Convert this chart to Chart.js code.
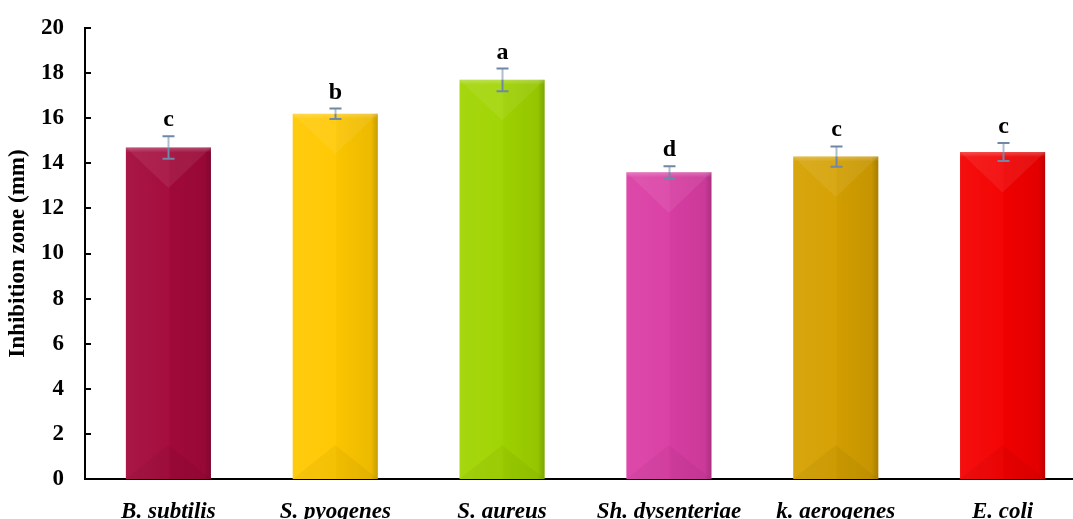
<!DOCTYPE html>
<html lang="en">
<head>
    <meta charset="UTF-8">
    <title>Inhibition zone</title>
    <style>
        html, body {
            margin: 0;
            padding: 0;
            background: #ffffff;
            overflow: hidden;
        }
        #wrap {
            position: relative;
            width: 1092px;
            height: 519px;
        }
    </style>
    <script src="https://cdn.jsdelivr.net/npm/chart.js"></script>
</head>
<body>
    <div id="wrap">
        <canvas id="zoneChart"></canvas>
    </div>

    <script>
        // data
        const strains = ['B. subtilis', 'S. pyogenes', 'S. aureus', 'Sh. dysenteriae', 'k. aerogenes', 'E. coli'];
        const zoneMeans = [14.7, 16.2, 17.7, 13.6, 14.3, 14.5];
        const zoneErrors = [0.5, 0.23, 0.5, 0.27, 0.45, 0.4];
        const groupLetters = ['c', 'b', 'a', 'd', 'c', 'c'];
        const barColors = ['#a3093b', '#ffc800', '#a0d400', '#da3ea4', '#d5a000', '#f40000'];

        const serif = '"Liberation Serif", "Times New Roman", serif';

        // shading on top of each bar to get the bevelled look
        const bevelPlugin = {
            id: 'bevel',
            afterDatasetsDraw(chart) {
                const ctx = chart.ctx;
                chart.getDatasetMeta(0).data.forEach(bar => {
                    const w = bar.width;
                    const left = bar.x - w / 2;
                    const right = bar.x + w / 2;
                    const top = bar.y;
                    const bottom = bar.base;
                    const half = w / 2;
                    ctx.save();

                    // left to right shading
                    const g = ctx.createLinearGradient(left, 0, right, 0);
                    g.addColorStop(0, 'rgba(255,255,255,0.06)');
                    g.addColorStop(0.5, 'rgba(255,255,255,0.02)');
                    g.addColorStop(0.52, 'rgba(0,0,0,0.02)');
                    g.addColorStop(0.92, 'rgba(0,0,0,0.07)');
                    g.addColorStop(1, 'rgba(0,0,0,0.22)');
                    ctx.fillStyle = g;
                    ctx.fillRect(left, top, w, bottom - top);

                    // top triangle
                    ctx.beginPath();
                    ctx.moveTo(left, top);
                    ctx.lineTo(right, top);
                    ctx.lineTo(bar.x, top + half * 0.95);
                    ctx.closePath();
                    ctx.fillStyle = 'rgba(255,255,255,0.07)';
                    ctx.fill();

                    // bottom triangle
                    ctx.beginPath();
                    ctx.moveTo(left, bottom);
                    ctx.lineTo(right, bottom);
                    ctx.lineTo(bar.x, bottom - half * 0.8);
                    ctx.closePath();
                    ctx.fillStyle = 'rgba(0,0,0,0.04)';
                    ctx.fill();

                    // top highlight strip
                    const h = ctx.createLinearGradient(0, top, 0, top + 5);
                    h.addColorStop(0, 'rgba(255,255,255,0.22)');
                    h.addColorStop(1, 'rgba(255,255,255,0)');
                    ctx.fillStyle = h;
                    ctx.fillRect(left, top, w, 5);
                    ctx.restore();
                });
            }
        };

        // error bars and group letters
        const errorPlugin = {
            id: 'errors',
            afterDatasetsDraw(chart) {
                const ctx = chart.ctx;
                const y = chart.scales.y;
                chart.getDatasetMeta(0).data.forEach((bar, i) => {
                    const hi = y.getPixelForValue(zoneMeans[i] + zoneErrors[i]);
                    const lo = y.getPixelForValue(zoneMeans[i] - zoneErrors[i]);
                    const x = Math.round(bar.x) + 0.5;
                    ctx.save();
                    ctx.lineWidth = 2;
                    ctx.strokeStyle = '#aebdd0';
                    ctx.beginPath();
                    ctx.moveTo(x, hi);
                    ctx.lineTo(x, bar.y);
                    ctx.stroke();
                    ctx.strokeStyle = '#6f88a8';
                    ctx.beginPath();
                    ctx.moveTo(x, bar.y);
                    ctx.lineTo(x, lo);
                    ctx.moveTo(x - 6, hi);
                    ctx.lineTo(x + 6, hi);
                    ctx.moveTo(x - 6, lo);
                    ctx.lineTo(x + 6, lo);
                    ctx.stroke();

                    ctx.fillStyle = '#000000';
                    ctx.font = 'bold 24px ' + serif;
                    ctx.textAlign = 'center';
                    ctx.textBaseline = 'alphabetic';
                    ctx.fillText(groupLetters[i], x, hi - 10);
                    ctx.restore();
                });
            }
        };

        // small ticks pointing into the plot
        const innerTicksPlugin = {
            id: 'innerTicks',
            afterDraw(chart) {
                const ctx = chart.ctx;
                const y = chart.scales.y;
                const x0 = chart.chartArea.left;
                ctx.save();
                ctx.strokeStyle = '#000000';
                ctx.lineWidth = 2;
                y.ticks.forEach(t => {
                    if (t.value === 0) return;
                    const py = Math.round(y.getPixelForValue(t.value));
                    ctx.beginPath();
                    ctx.moveTo(x0, py);
                    ctx.lineTo(x0 + 6, py);
                    ctx.stroke();
                });
                ctx.restore();
            }
        };

        const ctx = document.getElementById('zoneChart').getContext('2d');
        new Chart(ctx, {
            type: 'bar',
            data: {
                labels: strains,
                datasets: [{
                    data: zoneMeans,
                    backgroundColor: barColors,
                    borderWidth: 0,
                    barPercentage: 1,
                    categoryPercentage: 0.51
                }]
            },
            options: {
                responsive: true,
                maintainAspectRatio: false,
                animation: false,
                layout: {
                    padding: { top: 28, right: 6, bottom: 0, left: 0 }
                },
                plugins: {
                    legend: { display: false },
                    tooltip: { enabled: false }
                },
                scales: {
                    x: {
                        grid: { display: false, drawTicks: false },
                        border: { color: '#000000', width: 2 },
                        ticks: {
                            color: '#000000',
                            padding: 19,
                            maxRotation: 0,
                            font: { family: serif, size: 23, weight: 'bold', style: 'italic' }
                        },
                        afterFit(scale) { scale.height = 40; }
                    },
                    y: {
                        min: 0,
                        max: 20,
                        // tickLength keeps the labels away from the axis without adding top padding
                        grid: { display: false, drawTicks: true, tickLength: 15 },
                        border: { color: '#000000', width: 2 },
                        ticks: {
                            stepSize: 2,
                            color: '#000000',
                            padding: 6,
                            font: { family: serif, size: 23, weight: 'bold' }
                        },
                        title: {
                            display: true,
                            text: 'Inhibition zone (mm)',
                            color: '#000000',
                            padding: { top: 4, bottom: 0 },
                            font: { family: serif, size: 23, weight: 'bold' }
                        },
                        afterFit(scale) { scale.width = 85; }
                    }
                }
            },
            plugins: [bevelPlugin, errorPlugin, innerTicksPlugin]
        });
    </script>
</body>
</html>
